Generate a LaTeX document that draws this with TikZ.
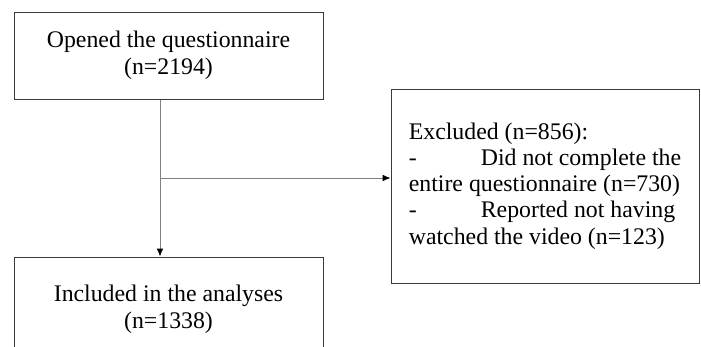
\documentclass[tikz,border=0pt]{standalone}
\usepackage{fontspec}
\setmainfont{Liberation Serif}
\usetikzlibrary{arrows.meta, positioning}
\definecolor{cframe}{HTML}{3A3A3A}
\definecolor{cline}{HTML}{808080}
\tikzset{
  every picture/.style={line width=1pt},
  box/.style={draw=cframe, minimum width=309pt, align=center, inner sep=0pt, font=\fontsize{23.8}{27}\selectfont},
  arrow/.style={-{Latex[length=8pt, width=7pt, color=black]}, draw=cline},
}
\begin{document}
\begin{tikzpicture}[x=1pt, y=-1pt]
  \useasboundingbox (0,0) rectangle (701,346);
  \clip (0,0) rectangle (701,346);
  \node[box, minimum height=87pt] (open) at (168.5,55.5) {Opened the questionnaire\\(n=2194)};
  \node[box, minimum width=308pt, minimum height=194pt, align=left, font=\fontsize{23.8}{26.2}\selectfont] (excl) at (545,186)
    {Excluded (n=856):\\
     \makebox[72pt][l]{-}Did not complete the\\
     entire questionnaire (n=730)\\
     \makebox[72pt][l]{-}Reported not having\\
     watched the video (n=123)};
  \node[box, minimum height=104pt] (incl) at (168.5,309) {Included in the analyses\\(n=1338)};
  \coordinate (split) at (160,178);
  \draw[arrow] (split |- open.south) -- (split |- incl.north);
  \draw[arrow] (split) -- (split -| excl.west);
\end{tikzpicture}
\end{document}
